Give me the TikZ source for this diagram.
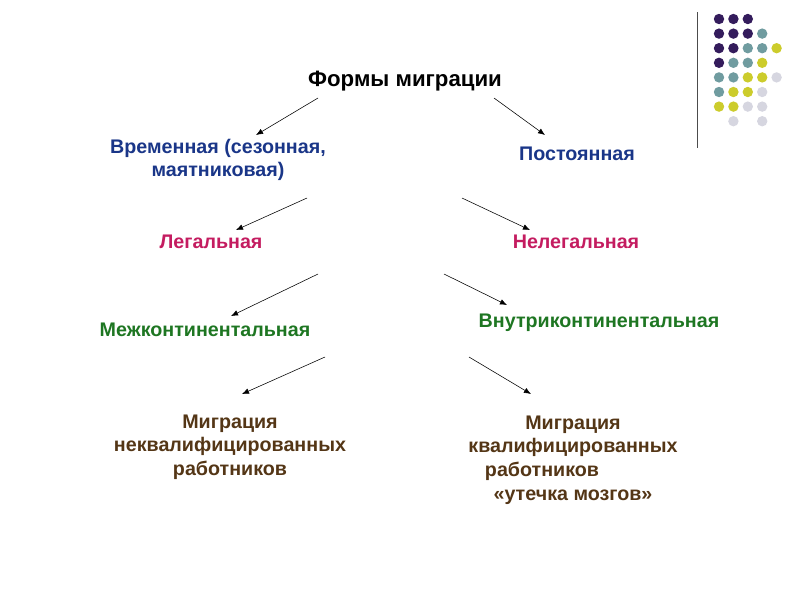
\documentclass[tikz,border=0pt]{standalone}
\usepackage{fontspec}
\setmainfont{Liberation Sans}
\usepackage{tikz}
\usetikzlibrary{arrows.meta, positioning}
\definecolor{tempblue}{RGB}{26, 54, 136}
\definecolor{legalred}{RGB}{196, 28, 96}
\definecolor{contgreen}{RGB}{30, 118, 34}
\definecolor{workbrown}{RGB}{84, 54, 22}
\definecolor{dotpurple}{RGB}{52, 28, 92}
\definecolor{dotteal}{RGB}{112, 156, 160}
\definecolor{dotyellow}{RGB}{204, 204, 44}
\definecolor{dotgray}{RGB}{214, 214, 224}

\begin{document}
\begin{tikzpicture}[
  x=0.025cm, y=-0.025cm,
  title/.style={font=\fontsize{15.8}{19}\selectfont\bfseries, inner sep=0pt},
  form/.style={font=\fontsize{14}{16.8}\selectfont\bfseries, align=center, inner sep=0pt},
  arr/.style={-{Latex[length=5pt, width=4pt]}, thin, black}
]
  \useasboundingbox (0,0) rectangle (800,600);

  % corner ornament
  \draw[black!70, line width=0.6pt] (697,12) -- (697,148);
  \foreach \c/\r/\col in {0/0/dotpurple, 1/0/dotpurple, 2/0/dotpurple,
      0/1/dotpurple, 1/1/dotpurple, 2/1/dotpurple, 3/1/dotteal,
      0/2/dotpurple, 1/2/dotpurple, 2/2/dotteal, 3/2/dotteal, 4/2/dotyellow,
      0/3/dotpurple, 1/3/dotteal, 2/3/dotteal, 3/3/dotyellow,
      0/4/dotteal, 1/4/dotteal, 2/4/dotyellow, 3/4/dotyellow, 4/4/dotgray,
      0/5/dotteal, 1/5/dotyellow, 2/5/dotyellow, 3/5/dotgray,
      0/6/dotyellow, 1/6/dotyellow, 2/6/dotgray, 3/6/dotgray,
      1/7/dotgray, 3/7/dotgray}
    \fill[\col] (719+14.4*\c, 19+14.6*\r) circle (5.2);

  % levels
  \node[title] (forms) at (405,81) {Формы миграции};
  \node[form, tempblue] (temp) at (218,160) {Временная (сезонная,\\маятниковая)};
  \node[form, tempblue] (perm) at (577,154) {Постоянная};
  \node[form, legalred] (legal) at (211,242) {Легальная};
  \node[form, legalred] (illegal) at (576,242) {Нелегальная};
  \node[form, contgreen] (inter) at (205,330) {Межконтинентальная};
  \node[form, contgreen] (intra) at (599,323) {Внутриконтинентальная};
  \node[form, workbrown] (unskill) at (230,447) {Миграция\\неквалифицированных\\работников};
  \node[form, workbrown] (skill) at (573,460) {Миграция\\квалифицированных\\работников\hspace{1.55cm}\mbox{}\\«утечка мозгов»};

  % arrow ends
  \coordinate (a1s) at (318,98);  \coordinate (a1e) at (256,135);
  \coordinate (a2s) at (494,98);  \coordinate (a2e) at (545,135);
  \coordinate (a3s) at (307,198); \coordinate (a3e) at (236,230);
  \coordinate (a4s) at (462,198); \coordinate (a4e) at (530,230);
  \coordinate (a5s) at (318,274); \coordinate (a5e) at (231,316);
  \coordinate (a6s) at (444,274); \coordinate (a6e) at (507,305);
  \coordinate (a7s) at (325,357); \coordinate (a7e) at (242,394);
  \coordinate (a8s) at (469,357); \coordinate (a8e) at (531,394);

  \draw[arr] (a1s) -- (a1e);
  \draw[arr] (a2s) -- (a2e);
  \draw[arr] (a3s) -- (a3e);
  \draw[arr] (a4s) -- (a4e);
  \draw[arr] (a5s) -- (a5e);
  \draw[arr] (a6s) -- (a6e);
  \draw[arr] (a7s) -- (a7e);
  \draw[arr] (a8s) -- (a8e);
\end{tikzpicture}
\end{document}
